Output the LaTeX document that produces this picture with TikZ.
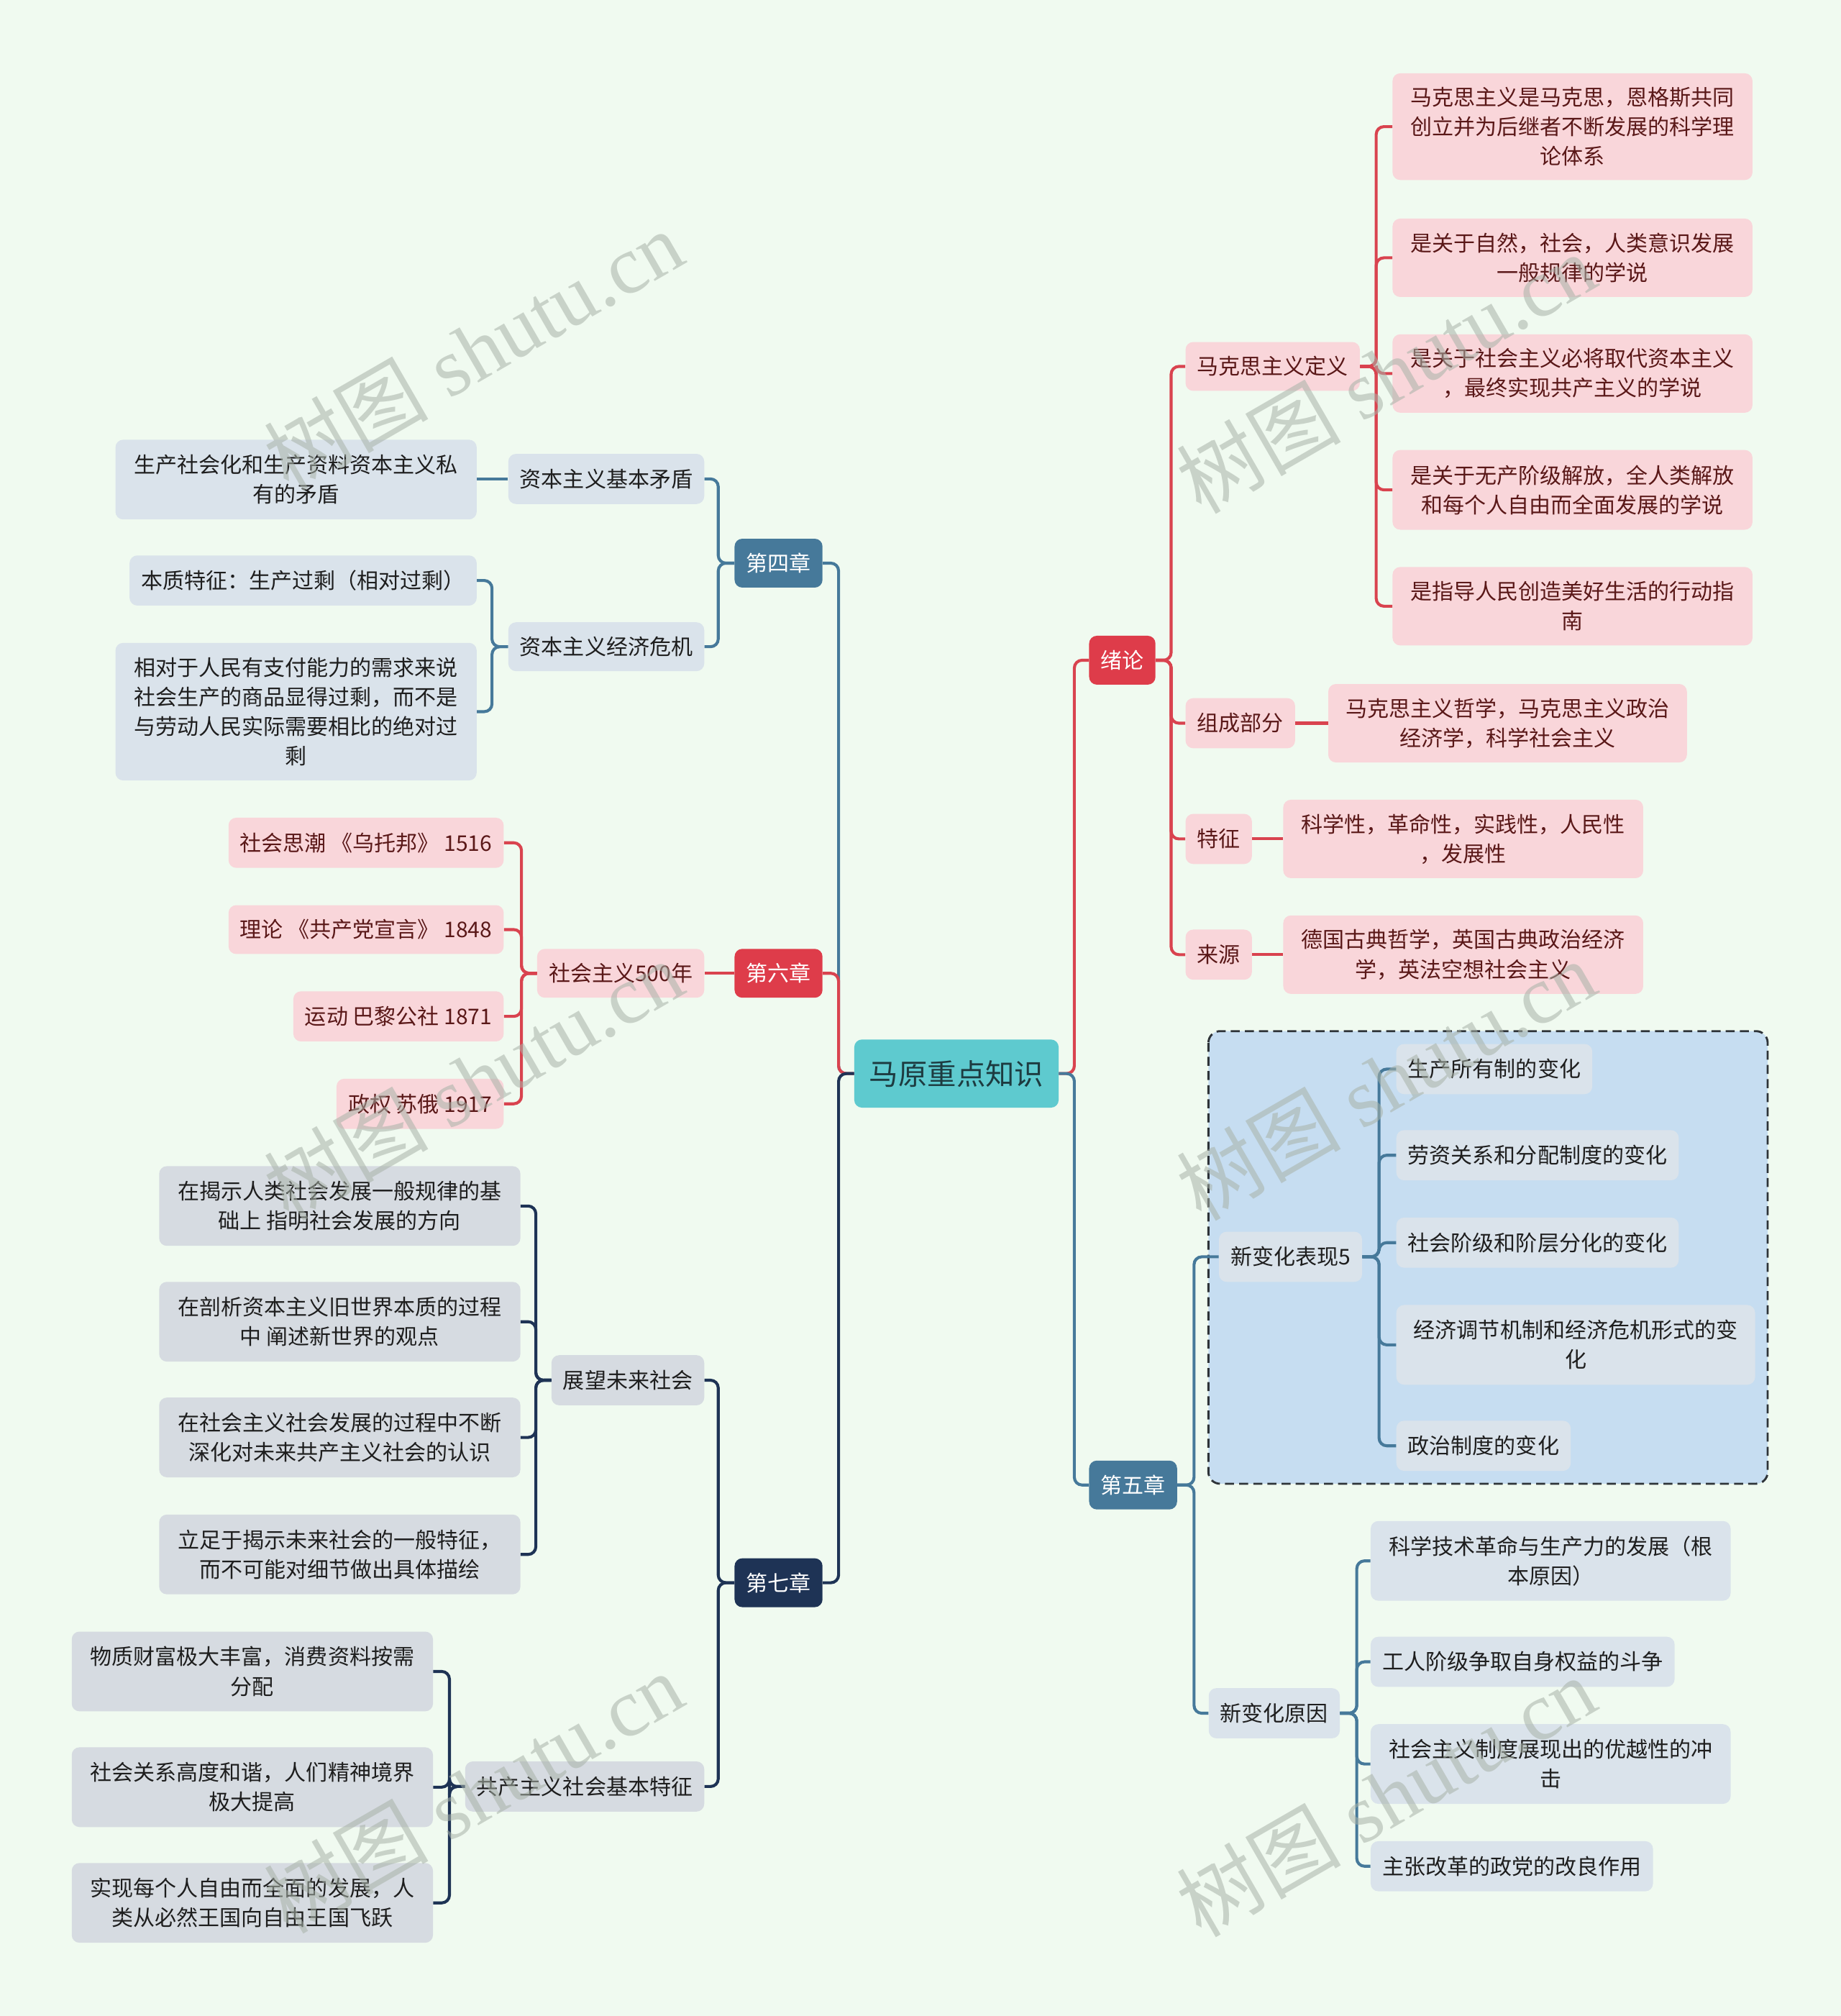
\documentclass[tikz,border=0pt]{standalone}
\usepackage{fontspec}
\newfontfamily\cjk{Noto Sans CJK SC}
\newfontfamily\wmserif{Liberation Serif}
\definecolor{bg}{HTML}{F0FAF0}
\definecolor{cred}{HTML}{DE3C4A}
\definecolor{credline}{HTML}{D9434F}
\definecolor{pinkf}{HTML}{F9D6DA}
\definecolor{pinkt}{HTML}{5A1818}
\definecolor{cblue}{HTML}{46799A}
\definecolor{bluef}{HTML}{DAE3EB}
\definecolor{cnavy}{HTML}{1E3355}
\definecolor{grayf}{HTML}{D6DBE1}
\definecolor{darkt}{HTML}{1E1E1E}
\definecolor{rootf}{HTML}{5ECACF}
\definecolor{roott}{HTML}{1D3B40}
\definecolor{dashf}{HTML}{C6DDF1}
\definecolor{dashl}{HTML}{2E3338}
\definecolor{wmc}{HTML}{A8B2A8}
\begin{document}
\begin{tikzpicture}[x=1pt,y=-1pt,
  base/.style={rounded corners=6pt, inner xsep=9pt, inner ysep=0pt, minimum height=39pt, align=center, font=\cjk\fontsize{16.8}{23}\selectfont},
  pinkbox/.style={base, fill=pinkf, text=pinkt},
  bluebox/.style={base, fill=bluef, text=darkt},
  graybox/.style={base, fill=grayf, text=darkt},
  redch/.style={base, fill=cred, text=white, minimum height=38pt},
  bluech/.style={base, fill=cblue, text=white, minimum height=38pt},
  navych/.style={base, fill=cnavy, text=white, minimum height=38pt},
  two/.style={minimum height=62pt, minimum width=280pt},
  three/.style={minimum height=83pt, minimum width=280pt},
  four/.style={minimum height=107pt, minimum width=281pt},
  conn/.style={line width=2.3pt, rounded corners=6pt},
  wm/.style={font=\fontsize{64}{64}\selectfont, text=wmc, opacity=0.55, rotate=30}
]
\useasboundingbox[fill=bg] (0,0) rectangle (1432,1568);

% dashed group box
\draw[fill=dashf, draw=dashl, dashed, line width=1.6pt, rounded corners=9pt, dash pattern=on 7pt off 4pt] (940,802) rectangle (1375,1154);

% root
\node[base, fill=rootf, text=roott, minimum width=159pt, minimum height=53pt, font=\cjk\fontsize{22.6}{26}\selectfont] (root) at (744,835) {马原重点知识};

% ---------- right: 绪论 ----------
\node[redch, anchor=west] (xl) at (847,513.5) {绪论};
\node[pinkbox, anchor=west, minimum height=38pt] (md) at (922,285) {马克思主义定义};
\node[pinkbox, three, anchor=west] (d1) at (1083,98.5) {马克思主义是马克思，恩格斯共同\\创立并为后继者不断发展的科学理\\论体系};
\node[pinkbox, two, anchor=west, minimum height=61pt] (d2) at (1083,200.5) {是关于自然，社会，人类意识发展\\一般规律的学说};
\node[pinkbox, two, anchor=west, minimum height=61pt] (d3) at (1083,290.5) {是关于社会主义必将取代资本主义\\，最终实现共产主义的学说};
\node[pinkbox, two, anchor=west] (d4) at (1083,381) {是关于无产阶级解放，全人类解放\\和每个人自由而全面发展的学说};
\node[pinkbox, two, anchor=west, minimum height=61pt] (d5) at (1083,471.5) {是指导人民创造美好生活的行动指\\南};
\node[pinkbox, anchor=west] (zc) at (922,562.5) {组成部分};
\node[pinkbox, two, anchor=west, minimum height=61pt, minimum width=279pt] (zci) at (1033,562.5) {马克思主义哲学，马克思主义政治\\经济学，科学社会主义};
\node[pinkbox, anchor=west] (tz) at (922,652.5) {特征};
\node[pinkbox, two, anchor=west, minimum height=61pt] (tzi) at (998,652.5) {科学性，革命性，实践性，人民性\\，发展性};
\node[pinkbox, anchor=west] (ly) at (922,742.5) {来源};
\node[pinkbox, two, anchor=west, minimum height=61pt] (lyi) at (998,742.5) {德国古典哲学，英国古典政治经济\\学，英法空想社会主义};

% ---------- right: 第五章 ----------
\node[bluech, anchor=west] (c5) at (847,1155) {第五章};
\node[bluebox, anchor=west] (bx) at (948,977.5) {新变化表现5};
\node[bluebox, anchor=west] (b1) at (1086,831.5) {生产所有制的变化};
\node[bluebox, anchor=west] (b2) at (1086,898.5) {劳资关系和分配制度的变化};
\node[bluebox, anchor=west] (b3) at (1086,966.5) {社会阶级和阶层分化的变化};
\node[bluebox, two, anchor=west, minimum width=279pt] (b4) at (1086,1046) {经济调节机制和经济危机形式的变\\化};
\node[bluebox, anchor=west] (b5) at (1086,1124.5) {政治制度的变化};
\node[bluebox, anchor=west] (by) at (940,1332.5) {新变化原因};
\node[bluebox, two, anchor=west] (e1) at (1066,1214) {科学技术革命与生产力的发展（根\\本原因）};
\node[bluebox, anchor=west] (e2) at (1066,1292.5) {工人阶级争取自身权益的斗争};
\node[bluebox, two, anchor=west] (e3) at (1066,1372) {社会主义制度展现出的优越性的冲\\击};
\node[bluebox, anchor=west] (e4) at (1066,1451.5) {主张改革的政党的改良作用};

% ---------- left: 第四章 ----------
\node[bluech, anchor=east] (c4) at (640,438) {第四章};
\node[bluebox, anchor=east] (jb) at (548,372.5) {资本主义基本矛盾};
\node[bluebox, two, anchor=east, minimum width=281pt] (jb1) at (371,373) {生产社会化和生产资料资本主义私\\有的矛盾};
\node[bluebox, anchor=east, minimum height=38pt] (jj) at (548,503) {资本主义经济危机};
\node[bluebox, anchor=east] (jj1) at (371,451.5) {本质特征：生产过剩（相对过剩）};
\node[bluebox, four, anchor=east] (jj2) at (371,553.5) {相对于人民有支付能力的需求来说\\社会生产的商品显得过剩，而不是\\与劳动人民实际需要相比的绝对过\\剩};

% ---------- left: 第六章 ----------
\node[redch, anchor=east] (c6) at (640,757) {第六章};
\node[pinkbox, anchor=east, minimum height=38pt] (sz) at (548,757) {社会主义500年};
\node[pinkbox, anchor=east] (s1) at (392,655.5) {社会思潮 《乌托邦》 1516};
\node[pinkbox, anchor=east, minimum height=38pt] (s2) at (392,723) {理论 《共产党宣言》 1848};
\node[pinkbox, anchor=east] (s3) at (392,790.5) {运动 巴黎公社 1871};
\node[pinkbox, anchor=east] (s4) at (392,858.5) {政权 苏俄 1917};

% ---------- left: 第七章 ----------
\node[navych, anchor=east] (c7) at (640,1231) {第七章};
\node[graybox, anchor=east] (zw) at (548,1073.5) {展望未来社会};
\node[graybox, two, anchor=east, minimum width=281pt] (z1) at (405,938) {在揭示人类社会发展一般规律的基\\础上 指明社会发展的方向};
\node[graybox, two, anchor=east, minimum width=281pt] (z2) at (405,1028) {在剖析资本主义旧世界本质的过程\\中 阐述新世界的观点};
\node[graybox, two, anchor=east, minimum width=281pt] (z3) at (405,1118) {在社会主义社会发展的过程中不断\\深化对未来共产主义社会的认识};
\node[graybox, two, anchor=east, minimum width=281pt] (z4) at (405,1209) {立足于揭示未来社会的一般特征，\\而不可能对细节做出具体描绘};
\node[graybox, anchor=east] (gc) at (548,1389.5) {共产主义社会基本特征};
\node[graybox, two, anchor=east, minimum width=281pt] (g1) at (337,1300) {物质财富极大丰富，消费资料按需\\分配};
\node[graybox, two, anchor=east, minimum width=281pt] (g2) at (337,1390) {社会关系高度和谐，人们精神境界\\极大提高};
\node[graybox, two, anchor=east, minimum width=281pt] (g3) at (337,1480) {实现每个人自由而全面的发展，人\\类从必然王国向自由王国飞跃};

% ---------- connectors ----------
% root to left chapters
\draw[conn, cblue] (root.west) -- ++(-12,0) |- (c4.east);
\draw[conn, credline] (root.west) -- ++(-12,0) |- (c6.east);
\draw[conn, cnavy] (root.west) -- ++(-12,0) |- (c7.east);
% root to right chapters
\draw[conn, credline] (root.east) -- ++(12,0) |- (xl.west);
\draw[conn, cblue] (root.east) -- ++(12,0) |- (c5.west);

% 绪论
\foreach \t in {md,zc,tz,ly}{\draw[conn, credline] (xl.east) -- ++(12,0) |- (\t.west);}
\foreach \t in {d1,d2,d3,d4,d5}{\draw[conn, credline] (md.east) -- ++(12.5,0) |- (\t.west);}
\draw[conn, credline] (zc.east) -- (zci.west);
\draw[conn, credline] (tz.east) -- (tzi.west);
\draw[conn, credline] (ly.east) -- (lyi.west);

% 第五章
\foreach \t in {bx,by}{\draw[conn, cblue] (c5.east) -- ++(13,0) |- (\t.west);}
\foreach \t in {b1,b2,b3,b4,b5}{\draw[conn, cblue] (bx.east) -- ++(13,0) |- (\t.west);}
\foreach \t in {e1,e2,e3,e4}{\draw[conn, cblue] (by.east) -- ++(13,0) |- (\t.west);}

% 第四章
\foreach \t in {jb,jj}{\draw[conn, cblue] (c4.west) -- ++(-12.5,0) |- (\t.east);}
\draw[conn, cblue] (jb.west) -- (jb.west -| jb1.east);
\foreach \t in {jj1,jj2}{\draw[conn, cblue] (jj.west) -- ++(-12.5,0) |- (\t.east);}

% 第六章
\draw[conn, credline] (c6.west) -- (sz.east);
\foreach \t in {s1,s2,s3,s4}{\draw[conn, credline] (sz.west) -- ++(-12,0) |- (\t.east);}

% 第七章
\foreach \t in {zw,gc}{\draw[conn, cnavy] (c7.west) -- ++(-12.5,0) |- (\t.east);}
\foreach \t in {z1,z2,z3,z4}{\draw[conn, cnavy] (zw.west) -- ++(-12,0) |- (\t.east);}
\foreach \t in {g1,g2,g3}{\draw[conn, cnavy] (gc.west) -- ++(-12,0) |- (\t.east);}

% ---------- watermark ----------
\foreach \wx/\wy [count=\i] in {368/272, 1078/290, 368/840, 1078/840, 368/1394, 1078/1397}{
  \node[wm] (wm\i) at (\wx,\wy) {\cjk 树图\wmserif{} shutu.cn};
}
\end{tikzpicture}
\end{document}
